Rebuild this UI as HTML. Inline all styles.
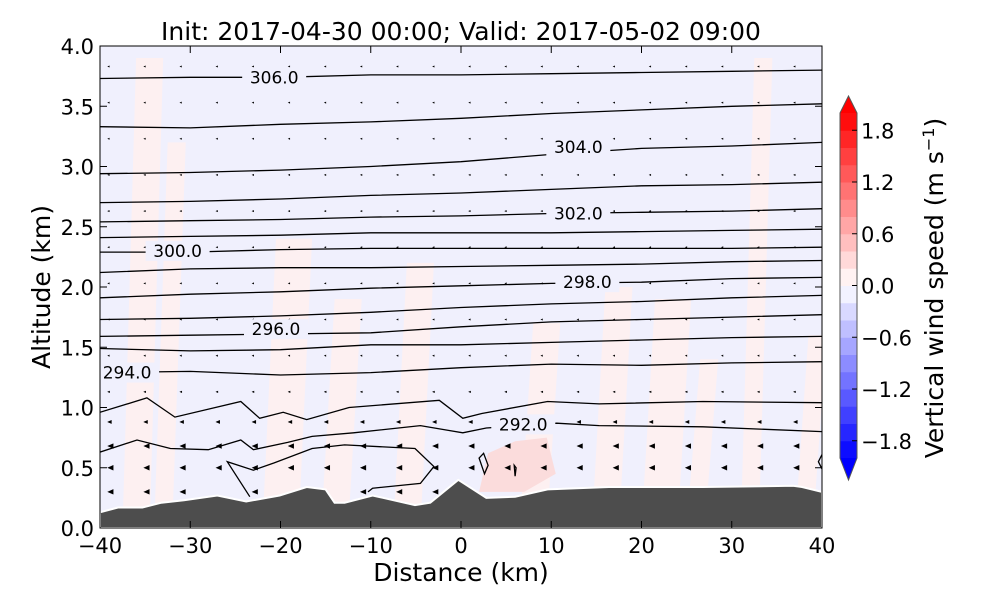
<!DOCTYPE html>
<html><head><meta charset="utf-8"><style>
body{margin:0;background:#fff;}
svg text{font-family:"DejaVu Sans","Liberation Sans",sans-serif;}
</style></head><body>
<svg id="chart" width="1000" height="600" viewBox="0 0 1000 600" xmlns="http://www.w3.org/2000/svg">
<defs><clipPath id="plotclip"><rect x="100" y="46" width="722" height="482"/></clipPath></defs>
<text x="461" y="40" font-size="25" text-anchor="middle">Init: 2017-04-30 00:00; Valid: 2017-05-02 09:00</text>
<g id="plot" clip-path="url(#plotclip)"></g>
<g id="axes"></g>
<g id="cbar"></g>
<text x="461" y="581" font-size="25" text-anchor="middle">Distance (km)</text>
<text transform="translate(50,287) rotate(-90)" font-size="25" text-anchor="middle">Altitude (km)</text>
<text transform="translate(943,288) rotate(-90)" font-size="25" text-anchor="middle">Vertical wind speed (m s<tspan dy="-9" font-size="16">−1</tspan><tspan dy="9">)</tspan></text>
</svg>
<script>
// ---- data ----
const xTicks = [-40,-30,-20,-10,0,10,20,30,40];
const yTicks = [0.0,0.5,1.0,1.5,2.0,2.5,3.0,3.5,4.0];
const gridX = [-40,-30,-20,-10,0,10,20,30,40];
const smoothLevels = [306,305,304,303,302,301,300,299,298,297,296,295,294];
const smoothZ = [
 [3.73,3.74,3.74,3.76,3.76,3.77,3.78,3.79,3.80],
 [3.33,3.32,3.35,3.37,3.40,3.44,3.47,3.50,3.52],
 [2.94,2.95,2.97,3.00,3.04,3.10,3.15,3.17,3.20],
 [2.70,2.71,2.73,2.76,2.78,2.81,2.84,2.85,2.87],
 [2.54,2.55,2.56,2.58,2.59,2.61,2.62,2.63,2.65],
 [2.41,2.42,2.43,2.45,2.45,2.45,2.46,2.47,2.48],
 [2.29,2.29,2.31,2.32,2.32,2.32,2.32,2.32,2.33],
 [2.12,2.15,2.16,2.16,2.17,2.18,2.19,2.21,2.22],
 [1.91,1.94,1.96,1.99,2.01,2.03,2.04,2.07,2.08],
 [1.73,1.74,1.76,1.79,1.83,1.86,1.88,1.91,1.93],
 [1.59,1.60,1.61,1.62,1.67,1.71,1.73,1.75,1.77],
 [1.49,1.47,1.48,1.52,1.52,1.54,1.56,1.58,1.59],
 [1.29,1.30,1.27,1.29,1.33,1.36,1.35,1.37,1.38]
];
const l293X = [-40,-34.8,-31.7,-24.4,-22.3,-19.7,-17.1,-12.4,-2.4,0.2,2.3,9.6,15.3,26.8,40];
const l293Z = [0.96,1.08,0.92,1.05,0.91,0.96,0.90,1.00,1.06,0.91,0.95,1.05,1.03,1.05,1.04];
const l292X = [-40,-35.9,-32.2,-28.0,-24.4,-23.0,-19.2,-16.5,-11.9,-4.5,-1.4,0.2,2.8,10.6,15.3,26.8,40];
const l292Z = [0.63,0.73,0.66,0.65,0.73,0.65,0.71,0.76,0.79,0.85,0.81,0.79,0.83,0.87,0.85,0.84,0.80];
const l291X = [-23.4,-25.9,-23.0,-20.7,-16.5,-12.9,-5.1,-3.0,-4.5,-9.8,-10.3];
const l291Z = [0.26,0.55,0.48,0.54,0.66,0.69,0.66,0.51,0.37,0.33,0.30];
const smallAX = [2.0,2.5,3.0,2.6,2.0];
const smallAZ = [0.58,0.62,0.52,0.45,0.58];
const smallBX = [5.9,6.1,6.0,5.9];
const smallBZ = [0.52,0.50,0.43,0.52];
const smallCX = [40,39.6,40];
const smallCZ = [0.61,0.55,0.49];
const labelText = ["306.0","304.0","302.0","300.0","298.0","296.0","294.0","292.0"];
const labelX = [-20.7,13.0,13.0,-31.4,14.0,-20.5,-37.0,6.9];
const labelZ = [3.74,3.16,2.61,2.30,2.04,1.65,1.29,0.86];
const terrainX = [-40,-38.0,-35.3,-33.2,-30.7,-27.0,-23.8,-20.1,-17.1,-15.0,-14.0,-12.9,-9.8,-5.1,-3.4,-0.3,2.8,6.0,9.6,16.4,26.8,36.8,37.8,40];
const terrainZ = [0.13,0.17,0.17,0.21,0.23,0.27,0.22,0.27,0.34,0.32,0.21,0.21,0.27,0.19,0.21,0.40,0.25,0.26,0.32,0.34,0.34,0.35,0.34,0.30];
const quiverX = [-40,-36,-32,-28,-24,-20,-16,-12,-8,-4,0,4,8,12,16,20,24,28,32,36];
const quiverRowsZ = [0.3,0.5,0.68,0.88,1.13,1.43,1.73,2.03,2.33,2.63,2.93,3.23,3.53,3.83];
const quiverRowsU = [-5,-5,-4.5,-2.5,-0.6,-0.3,-0.3,-0.3,-0.3,-0.3,-0.3,-0.3,-0.3,-0.3];
const cbarLevels = [-2.0,-1.8,-1.6,-1.4,-1.2,-1.0,-0.8,-0.6,-0.4,-0.2,0.0,0.2,0.4,0.6,0.8,1.0,1.2,1.4,1.6,1.8,2.0];
const cbarTicks = [-1.8,-1.2,-0.6,0.0,0.6,1.2,1.8];
const cbarTickLabels = ["−1.8","−1.2","−0.6","0.0","0.6","1.2","1.8"];
const pinkStreakX = [-36,-33,-20,-14,-6,8,16,22,26,32,38];
const pinkStreakZTop = [3.9,3.2,2.4,1.9,2.2,1.7,2.0,1.9,1.4,3.9,1.6];
const pinkStreakW = [3,2,4,3,3,3,3,4,2,2,2];

// ---- scales ----
const NS = "http://www.w3.org/2000/svg";
const X0=100,X1=822,Y0=528,Y1=46;
const sx = v => X0 + (v+40)/80*(X1-X0);
const sy = v => Y0 - v/4*(Y0-Y1);
const CB_T=113, CB_B=458;
const cy = v => CB_B - (v+2)/4*(CB_B-CB_T);
function mk(tag, attrs, parent){const e=document.createElementNS(NS,tag);for(const k in attrs)e.setAttribute(k,attrs[k]);parent.appendChild(e);return e;}
function bwr(v){const t=(v+2)/4;let r,g,b;if(t<0.5){r=g=2*t;b=1;}else{r=1;g=b=2*(1-t);}return `rgb(${Math.round(r*255)},${Math.round(g*255)},${Math.round(b*255)})`;}
const plot=document.getElementById('plot'), axes=document.getElementById('axes'), cbar=document.getElementById('cbar');

let bg=mk('rect',{x:X0,y:Y1,width:X1-X0,height:Y0-Y1,fill:'#f0f0fd'},plot);


pinkStreakX.forEach((x,i)=>{
  const w=pinkStreakW[i];
  let p=mk('path',{d:`M${sx(x-w/2)},${sy(0)} L${sx(x+w/2)},${sy(0)} L${sx(x+w/2+1.5)},${sy(pinkStreakZTop[i])} L${sx(x-w/2+1.5)},${sy(pinkStreakZTop[i])} Z`,fill:'#fdf0f1'},plot);
  
  
});
let up=mk('path',{d:`M${sx(2)},${sy(0.3)} L${sx(3)},${sy(0.62)} L${sx(6)},${sy(0.72)} L${sx(9.5)},${sy(0.75)} L${sx(10.5)},${sy(0.45)} L${sx(7)},${sy(0.3)} Z`,fill:'#fbdcdc'},plot);



quiverRowsZ.forEach((z,ri)=>{
  quiverX.forEach(x=>{
    let tz=0;for(let i=0;i<terrainX.length-1;i++){if(x>=terrainX[i]&&x<=terrainX[i+1]){tz=terrainZ[i]+(terrainZ[i+1]-terrainZ[i])*(x-terrainX[i])/(terrainX[i+1]-terrainX[i]);}}
    if(z<tz+0.05) return;
    const u=quiverRowsU[ri];const px=sx(x)+8,py=sy(z);
    const L=Math.abs(u)*0.5, h=Math.min(3.2,Math.abs(u)*0.6+0.6);
    let a=mk('path',{d:`M${px+L},${py} L${px},${py} M${px},${py} L${px+h*1.6},${py-h*0.7} L${px+h*1.6},${py+h*0.7} Z`,stroke:'#000','stroke-width':0.6,fill:'#000'},plot);
    
    
  });
});

function line(xs,zs,name,close){let d=xs.map((x,i)=>(i?'L':'M')+sx(x).toFixed(1)+','+sy(zs[i]).toFixed(1)).join(' ');if(close)d+=' Z';
  let p=mk('path',{d,fill:'none',stroke:'#000','stroke-width':1.3},plot);
  
  }
smoothLevels.forEach((lv,i)=>line(gridX,smoothZ[i],'theta-contour-'+lv));
line(l293X,l293Z,'theta-contour-293');
line(l292X,l292Z,'theta-contour-292');
line(l291X,l291Z,'theta-contour-291');
line(smallAX,smallAZ,'theta-contour-small-a',true);
line(smallBX,smallBZ,'theta-contour-small-b',true);
line(smallCX,smallCZ,'theta-contour-small-c');
labelText.forEach((t,i)=>{
  const x=sx(labelX[i]),y=sy(labelZ[i]);
  let r=mk('rect',{x:x-32,y:y-10,width:64,height:20,fill:'#f0f0fd'},plot);
  
  
  let tx=mk('text',{x,y:y+6,'font-size':17,'text-anchor':'middle'},plot);tx.textContent=t;
  
  
});

let td='M'+sx(-40)+','+sy(0)+' '+terrainX.map((x,i)=>'L'+sx(x).toFixed(1)+','+sy(terrainZ[i]).toFixed(1)).join(' ')+' L'+sx(40)+','+sy(0)+' Z';
let ter=mk('path',{d:td,fill:'#4d4d4d',stroke:'#fff','stroke-width':2},plot);



let fr=mk('rect',{x:X0,y:Y1,width:X1-X0,height:Y0-Y1,fill:'none',stroke:'#000','stroke-width':1},axes);


xTicks.forEach(v=>{const x=sx(v);
  mk('line',{x1:x,x2:x,y1:Y0,y2:Y0-7,stroke:'#000'},axes);mk('line',{x1:x,x2:x,y1:Y1,y2:Y1+7,stroke:'#000'},axes);
  let t=mk('text',{x,y:Y0+25,'font-size':21,'text-anchor':'middle'},axes);t.textContent=(v<0?'−':'')+Math.abs(v);
  
  });
yTicks.forEach(v=>{const y=sy(v);
  mk('line',{x1:X0,x2:X0+7,y1:y,y2:y,stroke:'#000'},axes);mk('line',{x1:X1,x2:X1-7,y1:y,y2:y,stroke:'#000'},axes);
  let t=mk('text',{x:X0-6,y:y+8,'font-size':21,'text-anchor':'end'},axes);t.textContent=v.toFixed(1);
  
  });

const CX=840,CW=17;
for(let i=0;i<cbarLevels.length-1;i++){const a=cbarLevels[i],b=cbarLevels[i+1];
  let r=mk('rect',{x:CX,y:cy(b),width:CW,height:cy(a)-cy(b)+0.5,fill:bwr((a+b)/2)},cbar);
  
  }
let tu=mk('path',{d:`M${CX},${CB_T} L${CX+CW/2},${CB_T-17} L${CX+CW},${CB_T} Z`,fill:bwr(2.1)},cbar);


let tl=mk('path',{d:`M${CX},${CB_B} L${CX+CW/2},${CB_B+22} L${CX+CW},${CB_B} Z`,fill:bwr(-2.1)},cbar);


mk('path',{d:`M${CX},${CB_T} L${CX+CW/2},${CB_T-17} L${CX+CW},${CB_T} L${CX+CW},${CB_B} L${CX+CW/2},${CB_B+22} L${CX},${CB_B} Z`,fill:'none',stroke:'#555','stroke-width':1},cbar);
cbarTicks.forEach((v,i)=>{const y=cy(v);
  mk('line',{x1:CX+CW-5,x2:CX+CW,y1:y,y2:y,stroke:'#000'},cbar);
  let t=mk('text',{x:CX+CW+4,y:y+8,'font-size':21},cbar);t.textContent=cbarTickLabels[i];
  
  });
</script>
</body></html>
